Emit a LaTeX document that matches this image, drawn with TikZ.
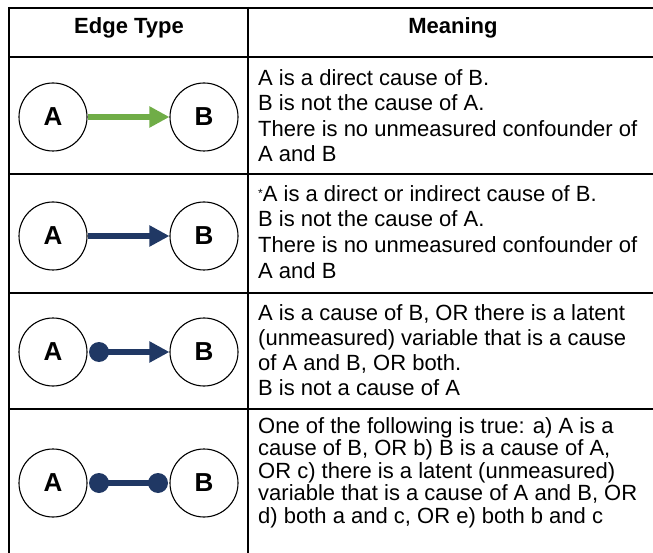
\documentclass[tikz,border=0pt]{standalone}
\usepackage{fontspec}
\setmainfont{Liberation Sans}
\usetikzlibrary{arrows.meta}
\definecolor{edgegreen}{HTML}{70AD47}
\definecolor{edgenavy}{HTML}{203864}
\tikzset{
  rule/.style={line width=2pt, black},
  vnode/.style={circle, draw, line width=1.1pt, minimum size=68pt, inner sep=0pt,
    font=\fontsize{26}{30}\selectfont\bfseries},
  head/.style={font=\fontsize{22}{25}\selectfont\bfseries, inner sep=0pt},
  meaning/.style={anchor=north west, inner sep=0pt, align=left},
  shaft/.style={line width=6pt},
  tip/.style={-{Triangle[length=20pt,width=20pt]}},
  dotnode/.style={circle, fill=edgenavy, minimum size=20pt, inner sep=0pt}
}
\begin{document}
\begin{tikzpicture}[x=1pt,y=-1pt]
\useasboundingbox (0,0) rectangle (653,553);
% table rules
\foreach \yy in {8,57,174,293,409}{
  \draw[rule] (9,\yy) -- (654,\yy);
}
\draw[rule] (9,7) -- (9,554);
\draw[rule] (248,7) -- (248,554);
% header
\node[head] (h1) at (129,28) {Edge Type};
\node[head] (h2) at (453,28) {Meaning};
% row 1
\node[vnode] (a1) at (53,117) {A};
\node[vnode] (b1) at (204,117) {B};
\draw[shaft, tip, edgegreen] (a1) -- (b1);
\node[meaning, font=\fontsize{22}{25.5}\selectfont] (m1) at (258,69) {%
A is a direct cause of B.\\
B is not the cause of A.\\
There is no unmeasured confounder of\\
A and B};
% row 2
\node[vnode] (a2) at (53,236) {A};
\node[vnode] (b2) at (204,236) {B};
\draw[shaft, tip, edgenavy] (a2) -- (b2);
\node[meaning, font=\fontsize{22}{25.7}\selectfont] (m2) at (258,185) {%
{\fontsize{12}{12}\selectfont\raisebox{4pt}{*}}A is a direct or indirect cause of B.\\
B is not the cause of A.\\
There is no unmeasured confounder of\\
A and B};
% row 3
\node[vnode] (a3) at (53,352) {A};
\node[vnode] (b3) at (204,352) {B};
\node[dotnode] (d3) at (99,352) {};
\draw[shaft, tip, edgenavy] (d3.center) -- (b3);
\node[meaning, font=\fontsize{22}{25}\selectfont] (m3) at (258,304) {%
A is a cause of B, OR there is a latent\\
(unmeasured) variable that is a cause\\
of A and B, OR both.\\
B is not a cause of A};
% row 4
\node[vnode] (a4) at (53,483) {A};
\node[vnode] (b4) at (204,483) {B};
\node[dotnode] (d4a) at (99,483) {};
\node[dotnode] (d4b) at (158,483) {};
\draw[shaft, edgenavy] (d4a.center) -- (d4b.center);
\node[meaning, font=\fontsize{22}{22.6}\selectfont] (m4) at (258,417) {%
One of the following is true: a) A is a\\
cause of B, OR b) B is a cause of A,\\
OR c) there is a latent (unmeasured)\\
variable that is a cause of A and B, OR\\
d) both a and c, OR e) both b and c};
\end{tikzpicture}
\end{document}
